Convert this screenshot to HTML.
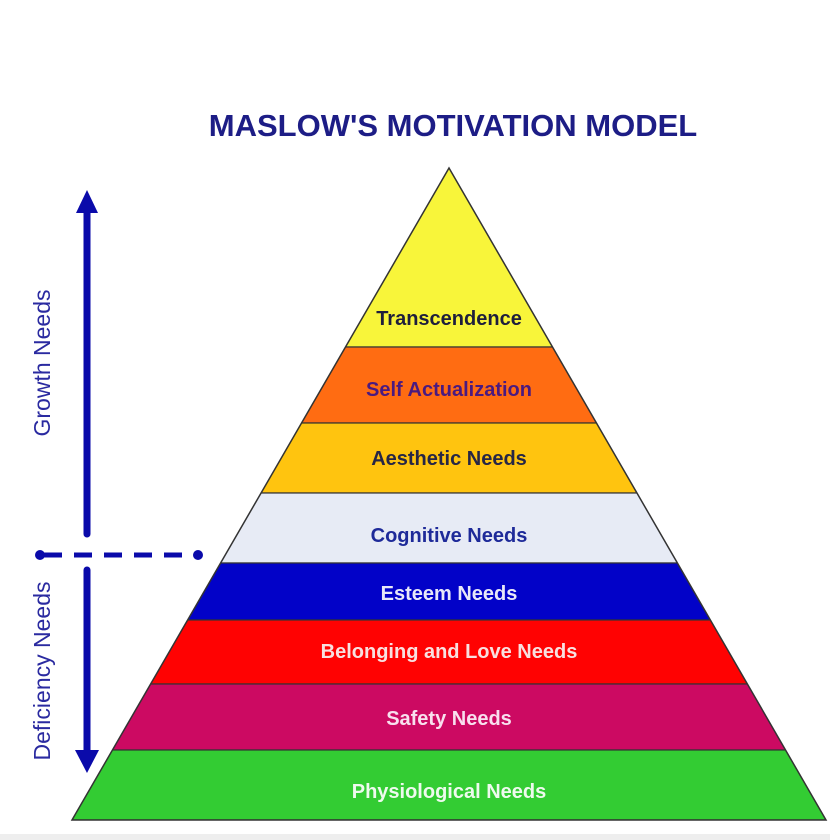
<!DOCTYPE html>
<html><head><meta charset="utf-8"><style>
html,body{margin:0;padding:0;background:#fff;width:830px;height:840px;overflow:hidden}
svg{display:block}
text{font-family:"Liberation Sans",sans-serif;font-weight:bold}
</style></head><body>
<svg width="830" height="840" viewBox="0 0 830 840" xmlns="http://www.w3.org/2000/svg">
<defs><clipPath id="tri"><polygon points="449,168 72,820 826,820"/></clipPath></defs>
<rect x="0" y="834" width="830" height="6" fill="#eeeeee"/>
<text x="453" y="136" font-size="31" fill="#1d1d86" text-anchor="middle">MASLOW'S MOTIVATION MODEL</text>
<g clip-path="url(#tri)" stroke="#333" stroke-width="1.2">
<rect x="0" y="160" width="830" height="187" fill="#f8f53a"/>
<rect x="0" y="347" width="830" height="76" fill="#ff6c12"/>
<rect x="0" y="423" width="830" height="70" fill="#ffc40f"/>
<rect x="0" y="493" width="830" height="70" fill="#e7ebf5"/>
<rect x="0" y="563" width="830" height="57" fill="#0202c8"/>
<rect x="0" y="620" width="830" height="64" fill="#ff0202"/>
<rect x="0" y="684" width="830" height="66" fill="#cc0a62"/>
<rect x="0" y="750" width="830" height="70" fill="#33cc33"/>
</g>
<polygon points="449,168 72,820 826,820" fill="none" stroke="#333" stroke-width="1.5"/>
<g font-size="20" text-anchor="middle">
<text x="449" y="325" fill="#1e1e3c">Transcendence</text>
<text x="449" y="396" fill="#4a1a80">Self Actualization</text>
<text x="449" y="465" fill="#262646">Aesthetic Needs</text>
<text x="449" y="542" fill="#1e2a99">Cognitive Needs</text>
<text x="449" y="600" fill="#e8e8f8">Esteem Needs</text>
<text x="449" y="658" fill="#f8e0e0">Belonging and Love Needs</text>
<text x="449" y="725" fill="#f8e0ee">Safety Needs</text>
<text x="449" y="798" fill="#eefaee">Physiological Needs</text>
</g>
<g fill="#0a0aaa" stroke="#0a0aaa">
<line x1="87" y1="205" x2="87" y2="534" stroke-width="7" stroke-linecap="round"/>
<polygon points="87,190 76,213 98,213" stroke="none"/>
<line x1="87" y1="570" x2="87" y2="755" stroke-width="7" stroke-linecap="round"/>
<polygon points="87,773 75,750 99,750" stroke="none"/>
<line x1="44" y1="555" x2="196" y2="555" stroke-width="5" stroke-dasharray="18,12"/>
<circle cx="40" cy="555" r="5" stroke="none"/>
<circle cx="198" cy="555" r="5" stroke="none"/>
</g>
<g font-size="23" fill="#2a2aa0">
<text transform="translate(50,363) rotate(-90)" text-anchor="middle" style="font-weight:normal">Growth Needs</text>
<text transform="translate(50,671) rotate(-90)" text-anchor="middle" style="font-weight:normal">Deficiency Needs</text>
</g>
</svg>
</body></html>
